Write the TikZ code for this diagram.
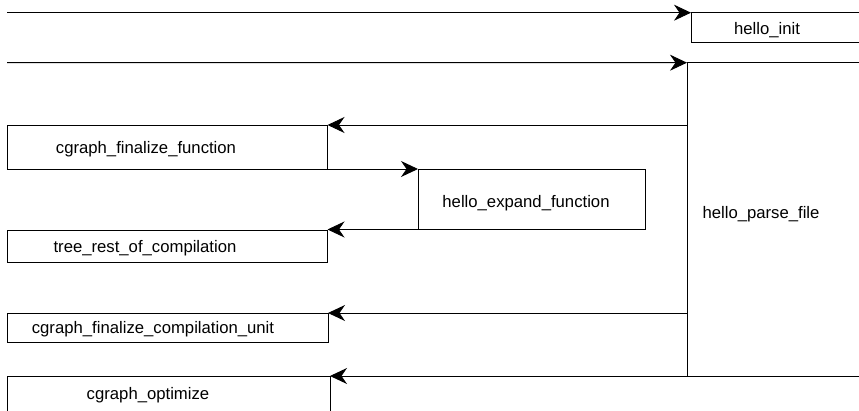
\documentclass[tikz,border=0pt]{standalone}
\usepackage{fontspec}
\setmainfont{Liberation Sans}
\usetikzlibrary{arrows.meta}

\tikzset{
  box/.style={draw=black, line width=0.9pt, minimum width=#1, inner sep=0pt, outer sep=0pt},
  fn/.style={anchor=base, inner sep=0pt, font=\fontsize{16.7}{20}\selectfont},
  flow/.style={draw=black, line width=0.9pt, -{Stealth[length=17pt, width=16pt, inset=5.5pt]}},
}

\begin{document}
\begin{tikzpicture}[x=1pt, y=-1pt]
  \useasboundingbox (0,0) rectangle (859,411);
  \clip (0,0) rectangle (859,411);

  % call frames (boxes may run past the page edge)
  \node[box=200pt, minimum height=29.6pt] (init)   at (791,27.5)    {};
  \node[box=200pt, minimum height=313.3pt] (parse) at (787,219.35)  {};
  \node[box=320.5pt, minimum height=44pt] (ff)     at (167.25,147)  {};
  \node[box=227pt, minimum height=60.5pt] (expand) at (531.5,199.25){};
  \node[box=320.5pt, minimum height=32pt] (trest)  at (167.25,246)  {};
  \node[box=321pt, minimum height=29pt]   (fcu)    at (167.5,327.5) {};
  \node[box=323pt, minimum height=54pt]   (opt)    at (168.5,403)   {};

  % function names
  \node[fn] (tinit)   at (767,35)  {hello\_init};
  \node[fn] (tparse)  at (761,219) {hello\_parse\_file};
  \node[fn] (tff)     at (146,154) {cgraph\_finalize\_function};
  \node[fn] (texpand) at (526,208) {hello\_expand\_function};
  \node[fn] (ttrest)  at (145,253) {tree\_rest\_of\_compilation};
  \node[fn] (tfcu)    at (153,334) {cgraph\_finalize\_compilation\_unit};
  \node[fn] (topt)    at (148,399) {cgraph\_optimize};

  % incoming calls from the left margin
  \coordinate (in1) at (7,12.7);
  \coordinate (in2) at (7,62.7);

  % calls
  \draw[flow] (in1) -- (init.north west);
  \draw[flow] (in2) -- (parse.north west);
  \draw[flow] (parse.west |- ff.north) -- (ff.north east);
  \draw[flow] (ff.south east) -- (expand.north west);
  \draw[flow] (expand.south west) -- (trest.north east |- expand.south west);
  \draw[flow] (parse.west |- fcu.north) -- (fcu.north east);
  \draw[flow] (parse.south west) -- (opt.north east);
\end{tikzpicture}
\end{document}
